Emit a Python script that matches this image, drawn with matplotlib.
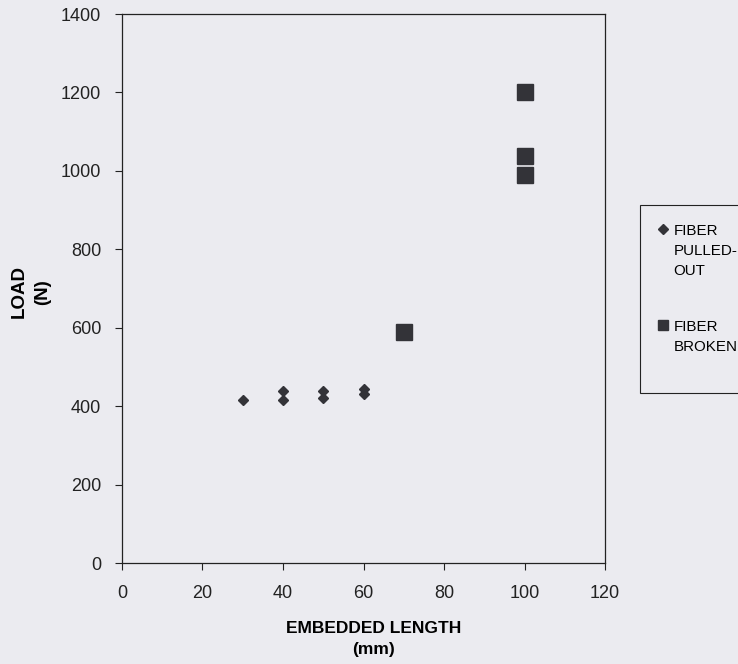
import matplotlib.pyplot as plt
import numpy as np

# fiber pulled out (diamonds)
pulled_len = [30, 40, 40, 50, 50, 60, 60]
pulled_load = [416, 415, 438, 422, 438, 432, 445]

# fiber broken (squares)
broken_len = [70, 100, 100, 100]
broken_load = [589, 1200, 1037, 990]

xticks = [0, 20, 40, 60, 80, 100, 120]
yticks = [0, 200, 400, 600, 800, 1000, 1200, 1400]

paper = '#ebebf0'
ink = '#333338'

plt.rcParams['font.family'] = ['Liberation Sans', 'DejaVu Sans']

fig = plt.figure(figsize=(7.38, 6.64), dpi=100, facecolor=paper)
ax = fig.add_axes([0.1653, 0.1521, 0.6545, 0.8268], facecolor=paper)

ax.plot(pulled_len, pulled_load, linestyle='none', marker='D', markersize=5.5,
        color=ink, label='FIBER\nPULLED-\nOUT')
ax.plot(broken_len, broken_load, linestyle='none', marker='s', markersize=11,
        color=ink, label='FIBER\nBROKEN\n ')

ax.set_xlim(0, 120)
ax.set_ylim(0, 1400)
ax.set_xticks(xticks)
ax.set_yticks(yticks)
ax.tick_params(direction='out', length=5, width=0.8, labelsize=13,
               colors='#222222')
ax.tick_params(axis='x', pad=11)
ax.tick_params(axis='y', pad=10)
for s in ax.spines.values():
    s.set_linewidth(0.9)
    s.set_color('#222222')

ax.set_xlabel('EMBEDDED LENGTH\n(mm)', fontsize=12.5, fontweight='bold',
              linespacing=1.5, va='top')
ax.xaxis.set_label_coords(0.52, -0.106)
ax.set_ylabel('LOAD\n(N)', fontsize=13.5, fontweight='bold',
              linespacing=1.45)
ax.yaxis.set_label_coords(-0.147, 0.494)

leg = ax.legend(loc='upper left', bbox_to_anchor=(640 / 738, 1 - 205 / 664),
                bbox_transform=fig.transFigure, frameon=True, fancybox=False,
                edgecolor='#222222', facecolor=paper, framealpha=1,
                fontsize=10.9, handlelength=0.6, handletextpad=0.35,
                borderpad=1.25, labelspacing=2.75, borderaxespad=0)
leg.get_frame().set_linewidth(0.8)
leg.legend_handles[1].set_markersize(7.5)
for t in leg.get_texts():
    t.set_linespacing(1.55)
# put the marker next to the first line of each label
for col in leg._legend_handle_box.get_children():
    for item in col.get_children():
        item.align = 'top'

fig.savefig('out.png', dpi=100, facecolor=paper)
